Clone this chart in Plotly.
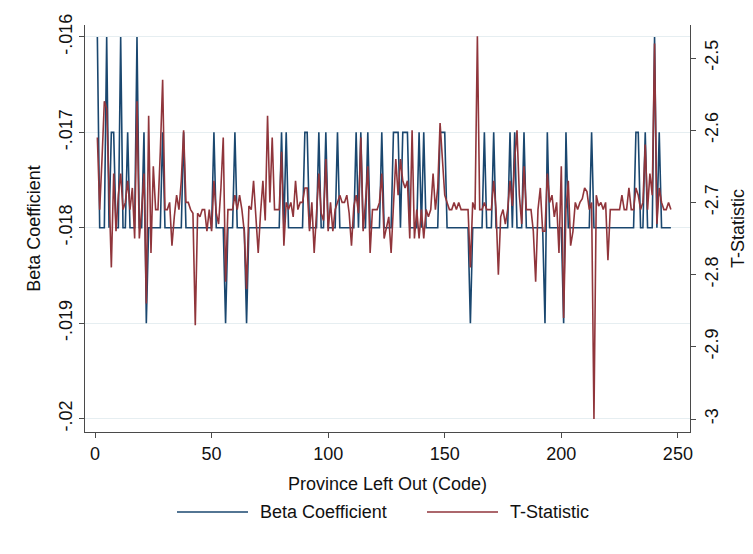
import plotly.graph_objects as go

# Province codes (categories on the x axis)
province = list(range(1, 248))

# Beta coefficient for each left-out province
beta = [
    -0.016, -0.018, -0.018, -0.018, -0.016, -0.018, -0.017, -0.017, -0.018, -0.018,
    -0.016, -0.018, -0.018, -0.017, -0.018, -0.018, -0.018, -0.016, -0.018, -0.018,
    -0.017, -0.019, -0.018, -0.018, -0.018, -0.018, -0.018, -0.018, -0.017, -0.018,
    -0.018, -0.018, -0.018, -0.018, -0.018, -0.018, -0.018, -0.017, -0.018, -0.018,
    -0.018, -0.018, -0.018, -0.018, -0.018, -0.018, -0.018, -0.018, -0.018, -0.018,
    -0.017, -0.018, -0.018, -0.018, -0.018, -0.019, -0.018, -0.018, -0.018, -0.017,
    -0.018, -0.018, -0.018, -0.018, -0.019, -0.018, -0.018, -0.018, -0.018, -0.018,
    -0.018, -0.018, -0.018, -0.018, -0.018, -0.018, -0.018, -0.018, -0.018, -0.017,
    -0.018, -0.017, -0.018, -0.018, -0.018, -0.018, -0.018, -0.018, -0.018, -0.017,
    -0.017, -0.018, -0.018, -0.018, -0.018, -0.017, -0.018, -0.018, -0.017, -0.018,
    -0.018, -0.018, -0.018, -0.017, -0.018, -0.018, -0.018, -0.018, -0.018, -0.018,
    -0.018, -0.017, -0.018, -0.017, -0.018, -0.018, -0.017, -0.018, -0.018, -0.018,
    -0.018, -0.018, -0.017, -0.018, -0.018, -0.018, -0.018, -0.017, -0.017, -0.017,
    -0.018, -0.017, -0.017, -0.017, -0.018, -0.018, -0.018, -0.018, -0.017, -0.018,
    -0.017, -0.018, -0.018, -0.018, -0.018, -0.018, -0.018, -0.017, -0.017, -0.017,
    -0.018, -0.018, -0.018, -0.018, -0.018, -0.018, -0.018, -0.018, -0.018, -0.018,
    -0.019, -0.018, -0.018, -0.018, -0.018, -0.018, -0.017, -0.018, -0.018, -0.018,
    -0.017, -0.018, -0.018, -0.018, -0.018, -0.018, -0.018, -0.017, -0.018, -0.017,
    -0.018, -0.018, -0.018, -0.017, -0.018, -0.018, -0.018, -0.018, -0.018, -0.018,
    -0.018, -0.018, -0.019, -0.017, -0.018, -0.018, -0.018, -0.018, -0.018, -0.018,
    -0.019, -0.017, -0.018, -0.018, -0.018, -0.018, -0.018, -0.018, -0.018, -0.018,
    -0.018, -0.018, -0.017, -0.018, -0.018, -0.018, -0.018, -0.018, -0.018, -0.018,
    -0.018, -0.018, -0.018, -0.018, -0.018, -0.018, -0.018, -0.018, -0.018, -0.018,
    -0.018, -0.017, -0.017, -0.018, -0.018, -0.017, -0.018, -0.018, -0.018, -0.016,
    -0.018, -0.017, -0.018, -0.018, -0.018, -0.018, -0.018,
]

# T-statistic for each left-out province
tstat = [
    -2.61, -2.71, -2.64, -2.56, -2.57, -2.68, -2.79, -2.66, -2.74, -2.69,
    -2.66, -2.71, -2.70, -2.67, -2.71, -2.68, -2.75, -2.56, -2.75, -2.71,
    -2.66, -2.84, -2.58, -2.77, -2.65, -2.71, -2.71, -2.63, -2.53, -2.71,
    -2.71, -2.70, -2.76, -2.72, -2.69, -2.71, -2.67, -2.60, -2.70, -2.70,
    -2.71, -2.715, -2.87, -2.715, -2.72, -2.71, -2.71, -2.74, -2.71, -2.74,
    -2.67, -2.715, -2.73, -2.68, -2.61, -2.81, -2.71, -2.71, -2.71, -2.69,
    -2.71, -2.69, -2.71, -2.74, -2.82, -2.705, -2.71, -2.67, -2.72, -2.77,
    -2.715, -2.67, -2.725, -2.58, -2.70, -2.61, -2.71, -2.71, -2.71, -2.63,
    -2.76, -2.70, -2.71, -2.70, -2.72, -2.67, -2.71, -2.70, -2.70, -2.68,
    -2.68, -2.74, -2.70, -2.77, -2.715, -2.66, -2.715, -2.725, -2.64, -2.74,
    -2.70, -2.74, -2.71, -2.70, -2.69, -2.70, -2.70, -2.69, -2.715, -2.76,
    -2.705, -2.69, -2.715, -2.61, -2.74, -2.70, -2.65, -2.77, -2.71, -2.71,
    -2.71, -2.70, -2.66, -2.75, -2.735, -2.72, -2.77, -2.71, -2.64, -2.69,
    -2.64, -2.67, -2.68, -2.67, -2.75, -2.60, -2.75, -2.71, -2.75, -2.71,
    -2.75, -2.71, -2.72, -2.71, -2.66, -2.71, -2.68, -2.59, -2.635, -2.69,
    -2.70, -2.71, -2.71, -2.70, -2.71, -2.70, -2.71, -2.71, -2.71, -2.71,
    -2.79, -2.70, -2.71, -2.47, -2.71, -2.71, -2.70, -2.71, -2.71, -2.71,
    -2.67, -2.71, -2.80, -2.72, -2.71, -2.73, -2.71, -2.67, -2.705, -2.64,
    -2.60, -2.69, -2.73, -2.65, -2.71, -2.71, -2.71, -2.74, -2.81, -2.71,
    -2.68, -2.74, -2.74, -2.66, -2.70, -2.69, -2.72, -2.70, -2.77, -2.65,
    -2.86, -2.71, -2.67, -2.76, -2.74, -2.70, -2.71, -2.70, -2.695, -2.68,
    -2.685, -2.71, -2.70, -3.00, -2.69, -2.705, -2.70, -2.71, -2.70, -2.78,
    -2.71, -2.71, -2.71, -2.71, -2.71, -2.69, -2.71, -2.71, -2.68, -2.71,
    -2.71, -2.68, -2.69, -2.71, -2.70, -2.62, -2.71, -2.66, -2.69, -2.48,
    -2.73, -2.68, -2.70, -2.71, -2.71, -2.70, -2.71,
]

x_ticks = [0, 50, 100, 150, 200, 250]
beta_ticks = [-0.016, -0.017, -0.018, -0.019, -0.020]
beta_tick_text = ["-.016", "-.017", "-.018", "-.019", "-.02"]
t_ticks = [-2.5, -2.6, -2.7, -2.8, -2.9, -3.0]
t_tick_text = ["-2.5", "-2.6", "-2.7", "-2.8", "-2.9", "-3"]

BLUE = "#1a476f"
RED = "#90353b"
FONT = "Liberation Sans, Arial, sans-serif"
AXIS = "#4a4a4a"
GRID = "#e6eef1"

fig = go.Figure()
fig.add_trace(go.Scatter(x=province, y=beta, mode="lines", name="Beta Coefficient",
                         line=dict(color=BLUE, width=1.6), showlegend=False))
fig.add_trace(go.Scatter(x=province, y=tstat, mode="lines", name="T-Statistic",
                         line=dict(color=RED, width=1.6), yaxis="y2", showlegend=False))

# The page has an 8px body margin; the plot area should sit at page px x 85..690, y 25..432
OFF = 8
W, H = 745, 546
L, T = 85 - OFF, 25 - OFF
pw, ph = 605, 407
R = W - L - pw
B = H - T - ph

def px(xp):  # page x -> paper
    return (xp - OFF - L) / pw

def py(yp):  # page y -> paper
    return (T + ph - (yp - OFF)) / ph

shapes = [
    dict(type="line", xref="paper", yref="paper", x0=px(177), x1=px(248), y0=py(512), y1=py(512),
         line=dict(color=BLUE, width=1.6)),
    dict(type="line", xref="paper", yref="paper", x0=px(427), x1=px(498), y0=py(512), y1=py(512),
         line=dict(color=RED, width=1.6)),
]
annotations = [
    dict(xref="paper", yref="paper", x=px(258), y=py(512), text="Beta Coefficient",
         showarrow=False, xanchor="left", yanchor="middle", font=dict(size=18, color="#111", family=FONT)),
    dict(xref="paper", yref="paper", x=px(508), y=py(512), text="T-Statistic",
         showarrow=False, xanchor="left", yanchor="middle", font=dict(size=18, color="#111", family=FONT)),
]

fig.update_layout(
    width=W, height=H,
    margin=dict(l=L, r=R, t=T, b=B, autoexpand=False),
    paper_bgcolor="white", plot_bgcolor="white",
    font=dict(family=FONT, size=18, color="#111"),
    shapes=shapes, annotations=annotations,
    showlegend=False,
    xaxis=dict(
        range=[-4.3, 255.2], tickvals=x_ticks, ticks="outside", ticklen=5, tickcolor=AXIS,
        showline=True, linecolor=AXIS, linewidth=1, showgrid=False, zeroline=False,
        title=dict(text="Province Left Out (Code)", standoff=14, font=dict(size=18)),
        tickfont=dict(size=18),
    ),
    yaxis=dict(
        range=[-0.02014, -0.015875], tickvals=beta_ticks, ticktext=beta_tick_text,
        tickangle=-90, ticks="outside", ticklen=5, tickcolor=AXIS,
        showline=True, linecolor=AXIS, linewidth=1,
        showgrid=True, gridcolor=GRID, gridwidth=1, zeroline=False,
        title=dict(text="Beta Coefficient", standoff=10, font=dict(size=18)),
        tickfont=dict(size=18),
    ),
    yaxis2=dict(
        range=[-3.018, -2.4543], tickvals=t_ticks, ticktext=t_tick_text,
        overlaying="y", side="right", tickangle=-90, ticks="outside", ticklen=5, tickcolor=AXIS,
        showline=True, linecolor=AXIS, linewidth=1, showgrid=False, zeroline=False,
        title=dict(text="T-Statistic", standoff=10, font=dict(size=18)),
        tickfont=dict(size=18),
    ),
)

fig.write_html("out.html")
